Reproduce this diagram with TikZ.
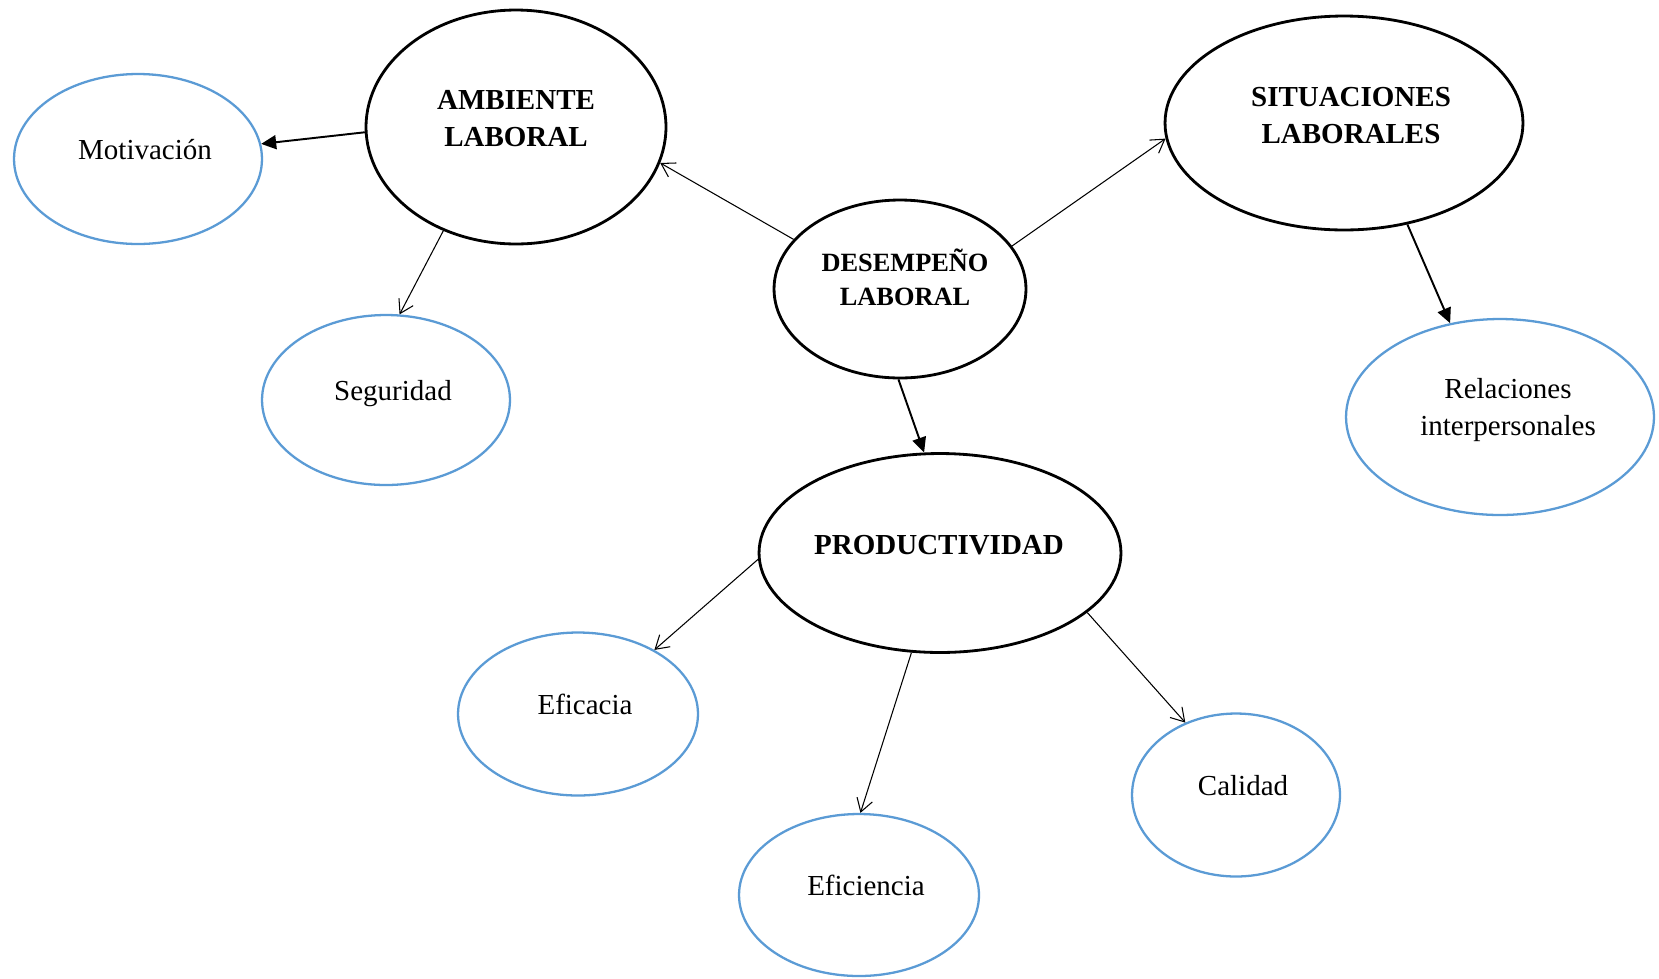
\documentclass[tikz,border=0pt]{standalone}
\usepackage{fontspec}
\setmainfont{Liberation Serif}
\usepackage{tikz}
\usetikzlibrary{shapes.geometric, arrows.meta}
\definecolor{ovalblue}{HTML}{5B9BD5}

\begin{document}
\begin{tikzpicture}[x=0.02cm, y=-0.02cm,
    mainoval/.style={ellipse, draw=black, line width=1.6pt, inner sep=0pt},
    suboval/.style={ellipse, draw=ovalblue, line width=1.3pt, inner sep=0pt},
    maintxt/.style={anchor=base, align=center, font=\fontsize{16.5}{21}\selectfont\bfseries},
    subtxt/.style={anchor=base, align=center, font=\fontsize{16.5}{21}\selectfont},
    openarr/.style={-{Straight Barb[length=2.6mm, width=3.2mm]}, line width=0.6pt},
    fillarr/.style={-{Triangle[length=3mm, width=2.8mm]}, line width=1.1pt}]
\useasboundingbox (0,0) rectangle (1659,978);

\node[mainoval, minimum width=6cm, minimum height=4.68cm] (amb) at (516,127) {};
\node[maintxt] (amb-lbl) at (516,146) {AMBIENTE\\LABORAL};
\node[mainoval, minimum width=7.16cm, minimum height=4.28cm] (sit) at (1344,123) {};
\node[maintxt] (sit-lbl) at (1351,143) {SITUACIONES\\LABORALES};
\node[mainoval, minimum width=5.04cm, minimum height=3.56cm] (des) at (900,289) {};
\node[maintxt, font=\fontsize{15}{18.8}\selectfont\bfseries] (des-lbl) at (905,305) {DESEMPEÑO\\LABORAL};
\node[mainoval, minimum width=7.24cm, minimum height=3.98cm] (prod) at (940,553) {};
\node[maintxt] (prod-lbl) at (939,554) {PRODUCTIVIDAD};

\foreach \name/\cx/\cy/\w/\h/\txt in {%
    mot/138/159/4.96/3.4/Motivación, seg/386/400/4.96/3.4/Seguridad,
    efa/578/714/4.8/3.26/Eficacia, efi/859/895/4.8/3.24/Eficiencia,
    cal/1236/795/4.16/3.26/Calidad}
{
    \node[suboval, minimum width=\w cm, minimum height=\h cm] (\name) at (\cx,\cy) {};
    \node[subtxt] (\name-lbl) at (\cx+7,\cy) {\txt};
}
\node[suboval, minimum width=6.16cm, minimum height=3.92cm] (rel) at (1500,417) {};
\node[subtxt] (rel-lbl) at (1508,435) {Relaciones\\interpersonales};

\draw[fillarr] (amb.182) -- (mot.7);
\draw[openarr] (des.155) -- (amb.346);
\draw[openarr] (des.21) -- (sit.185);
\draw[fillarr] (des.269) -- (prod.99);
\draw[openarr] (amb.235) -- (seg.81);
\draw[fillarr] (sit.302) -- (rel.118);
\draw[openarr] (prod.182) -- (efa.40);
\draw[openarr] (prod.254) -- (efi.89);
\draw[openarr] (prod.338) -- (cal.125);
\end{tikzpicture}
\end{document}
